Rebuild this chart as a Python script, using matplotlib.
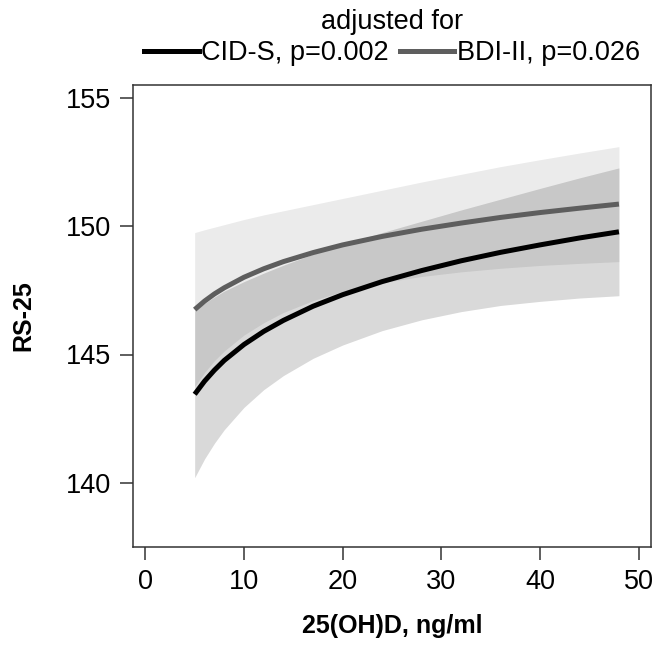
import matplotlib
matplotlib.use("Agg")
import matplotlib.pyplot as plt
from matplotlib.lines import Line2D

plt.rcParams['font.family'] = ['Liberation Sans', 'DejaVu Sans']

# 25(OH)D values (ng/ml) at which curves were read
vitd = [5, 6, 7, 8, 10, 12, 14, 17, 20, 24, 28, 32, 36, 40, 44, 48]

# adjusted for CID-S
cid_fit = [143.45, 143.96, 144.39, 144.77, 145.39, 145.90, 146.33, 146.88,
           147.33, 147.84, 148.27, 148.65, 148.98, 149.27, 149.54, 149.78]
cid_lo = [140.20, 140.93, 141.54, 142.07, 142.94, 143.63, 144.18, 144.85,
          145.37, 145.93, 146.35, 146.67, 146.91, 147.07, 147.20, 147.29]
cid_hi = [146.70, 146.99, 147.24, 147.47, 147.84, 148.17, 148.48, 148.91,
          149.29, 149.75, 150.19, 150.63, 151.05, 151.47, 151.88, 152.27]

# adjusted for BDI-II
bdi_fit = [146.75, 147.08, 147.36, 147.60, 148.01, 148.34, 148.62, 148.97,
           149.27, 149.60, 149.88, 150.12, 150.34, 150.53, 150.70, 150.86]
bdi_lo = [143.75, 144.30, 144.76, 145.14, 145.76, 146.24, 146.64, 147.10,
          147.46, 147.80, 148.04, 148.22, 148.36, 148.47, 148.55, 148.62]
bdi_hi = [149.75, 149.86, 149.96, 150.06, 150.26, 150.44, 150.60, 150.84,
          151.08, 151.40, 151.72, 152.02, 152.32, 152.59, 152.85, 153.10]

labels = ["CID-S, p=0.002", "BDI-II, p=0.026"]
xticks = [0, 10, 20, 30, 40, 50]
yticks = [140, 145, 150, 155]

fig = plt.figure(figsize=(6.62, 6.46), dpi=100)
ax = fig.add_axes([133/662, 1-547/646, (651-133)/662, (547-85)/646])

ax.fill_between(vitd, bdi_lo, bdi_hi, color='black', alpha=0.078, linewidth=0)
ax.fill_between(vitd, cid_lo, cid_hi, color='black', alpha=0.149, linewidth=0)
ax.plot(vitd, bdi_fit, color='#5e5e5e', lw=3.6, solid_capstyle='butt')
ax.plot(vitd, cid_fit, color='black', lw=3.6, solid_capstyle='butt')

ax.set_xlim(-1.25, 51.25)
ax.set_ylim(137.5, 155.5)
ax.set_xticks(xticks)
ax.set_yticks(yticks)
ax.tick_params(direction='out', length=9.5, width=1.1, color='#333333',
               labelsize=19.5, pad=6)
for s in ax.spines.values():
    s.set_color('#333333')
    s.set_linewidth(1.1)

ax.set_xlabel("25(OH)D, ng/ml", fontsize=18, fontweight='bold', labelpad=14)
ax.set_ylabel("RS-25", fontsize=18, fontweight='bold', labelpad=22)

handles = [Line2D([], [], color='black', lw=3.6),
           Line2D([], [], color='#5e5e5e', lw=3.6)]
leg = ax.legend(handles, labels, title="adjusted for", ncol=2, loc='lower center',
                bbox_to_anchor=(0.5, 1.0), frameon=False, fontsize=19.5,
                title_fontsize=19.5, handlelength=2.0, handletextpad=0.1,
                columnspacing=0.4, borderaxespad=0.6, borderpad=0.1,
                labelspacing=0.2)

fig.savefig("out.png", dpi=100)
